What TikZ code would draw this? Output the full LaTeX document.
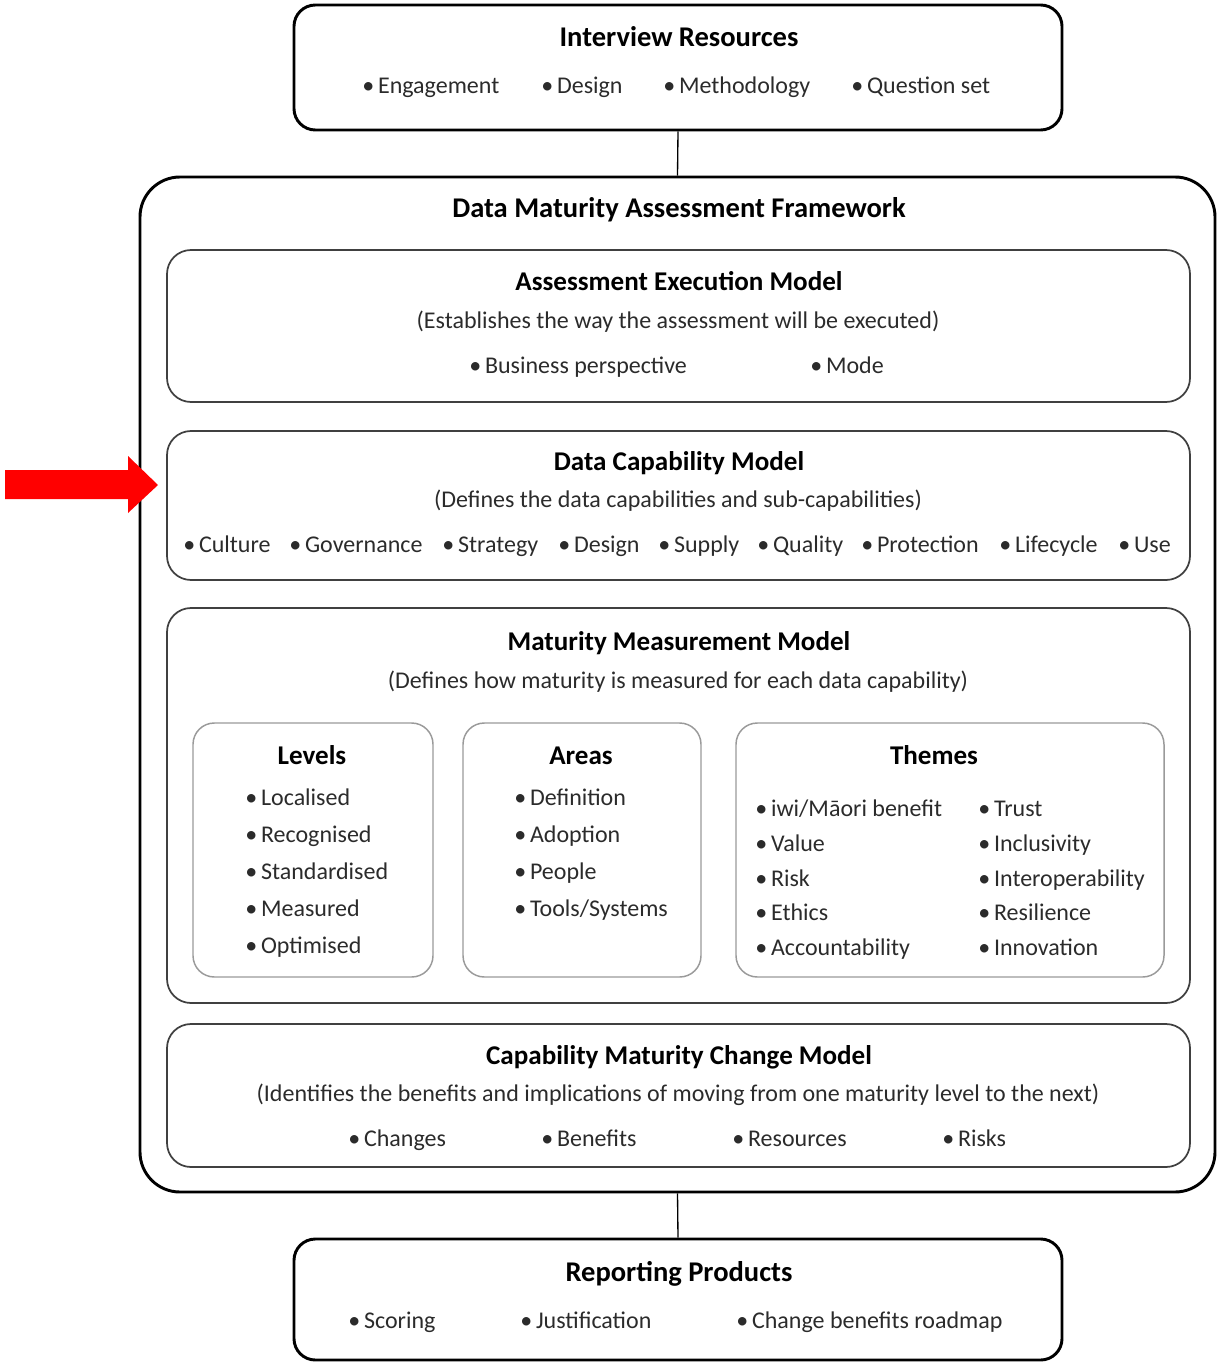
\documentclass[tikz,border=0pt]{standalone}
\usepackage{fontspec}
\setmainfont{Carlito}
\usetikzlibrary{fit}
\definecolor{ink}{HTML}{2B2B2B}
\definecolor{framegrey}{HTML}{404040}
\definecolor{softgrey}{HTML}{9A9A9A}
\definecolor{alarm}{HTML}{FF0000}
\newcommand{\bitem}[1]{\textbullet\hspace{0.16em}#1}
\begin{document}
\begin{tikzpicture}[x=0.75pt,y=-0.75pt,
  heavybox/.style={draw=black, line width=2.2pt, rounded corners=16pt, inner sep=0pt},
  outerbox/.style={draw=black, line width=2.2pt, rounded corners=30pt, inner sep=0pt},
  sectionbox/.style={draw=framegrey, line width=1.3pt, rounded corners=18pt, inner sep=0pt},
  subbox/.style={draw=softgrey, line width=1.1pt, rounded corners=16pt, inner sep=0pt},
  heading/.style={font=\fontsize{20.3}{22}\selectfont\bfseries, inner sep=0pt, anchor=base, yshift=-1.5pt},
  bigheading/.style={heading, font=\fontsize{21.4}{24}\selectfont\bfseries},
  note/.style={font=\fontsize{18}{20}\selectfont, text=ink, inner sep=0pt, anchor=base, yshift=-2pt},
  item/.style={note, anchor=base west},
  link/.style={draw=black, line width=1pt}]
\useasboundingbox (0,0) rectangle (1217,1362);

% ---- Interview resources ----
\node[heavybox, fit={(294,5) (1062,130)}] (ir) {};
\node[bigheading] (irT) at (679,45) {Interview Resources};
\node[item] (ir1) at (362,91) {\bitem{Engagement}};
\node[item] (ir2) at (541,91) {\bitem{Design}};
\node[item] (ir3) at (663,91) {\bitem{Methodology}};
\node[item] (ir4) at (851,91) {\bitem{Question set}};

% ---- Framework ----
\node[outerbox, fit={(140,177) (1215,1192)}] (fw) {};
\node[bigheading] (fwT) at (679,216) {Data Maturity Assessment Framework};

% Assessment execution model
\node[sectionbox, fit={(167,250) (1190,402)}] (aem) {};
\node[heading] (aemT) at (679,289) {Assessment Execution Model};
\node[note] (aemS) at (678,326) {(Establishes the way the assessment will be executed)};
\node[item] (aem1) at (469,371) {\bitem{Business perspective}};
\node[item] (aem2) at (810,371) {\bitem{Mode}};

% Data capability model
\node[sectionbox, fit={(167,431) (1190,580)}] (dcm) {};
\node[heading] (dcmT) at (679,468) {Data Capability Model};
\node[note] (dcmS) at (678,505) {(Defines the data capabilities and sub-capabilities)};
\node[item] (dcm1) at (183,550) {\bitem{Culture}};
\node[item] (dcm2) at (289,550) {\bitem{Governance}};
\node[item] (dcm3) at (442,550) {\bitem{Strategy}};
\node[item] (dcm4) at (558,550) {\bitem{Design}};
\node[item] (dcm5) at (658,550) {\bitem{Supply}};
\node[item] (dcm6) at (757,550) {\bitem{Quality}};
\node[item] (dcm7) at (861,550) {\bitem{Protection}};
\node[item] (dcm8) at (999,550) {\bitem{Lifecycle}};
\node[item] (dcm9) at (1118,550) {\bitem{Use}};

% Maturity measurement model
\node[sectionbox, fit={(167,608) (1190,1003)}] (mmm) {};
\node[heading] (mmmT) at (679,648) {Maturity Measurement Model};
\node[note] (mmmS) at (678,686) {(Defines how maturity is measured for each data capability)};

\node[subbox, fit={(193,723) (433,977)}] (lv) {};
\node[heading] (lvT) at (312,762) {Levels};
\node[item] (lv1) at (245,803) {\bitem{Localised}};
\node[item] (lv2) at (245,840) {\bitem{Recognised}};
\node[item] (lv3) at (245,877) {\bitem{Standardised}};
\node[item] (lv4) at (245,914) {\bitem{Measured}};
\node[item] (lv5) at (245,951) {\bitem{Optimised}};

\node[subbox, fit={(463,723) (701,977)}] (ar) {};
\node[heading] (arT) at (581,762) {Areas};
\node[item] (ar1) at (514,803) {\bitem{Definition}};
\node[item] (ar2) at (514,840) {\bitem{Adoption}};
\node[item] (ar3) at (514,877) {\bitem{People}};
\node[item] (ar4) at (514,914) {\bitem{Tools/Systems}};

\node[subbox, fit={(736,723) (1164,977)}] (th) {};
\node[heading] (thT) at (934,762) {Themes};
\node[item] (th1) at (755,814) {\bitem{iwi/Māori benefit}};
\node[item] (th2) at (755,849) {\bitem{Value}};
\node[item] (th3) at (755,884) {\bitem{Risk}};
\node[item] (th4) at (755,918) {\bitem{Ethics}};
\node[item] (th5) at (755,953) {\bitem{Accountability}};
\node[item] (th6) at (978,814) {\bitem{Trust}};
\node[item] (th7) at (978,849) {\bitem{Inclusivity}};
\node[item] (th8) at (978,884) {\bitem{Interoperability}};
\node[item] (th9) at (978,918) {\bitem{Resilience}};
\node[item] (th10) at (978,953) {\bitem{Innovation}};

% Capability maturity change model
\node[sectionbox, fit={(167,1024) (1190,1167)}] (cmc) {};
\node[heading] (cmcT) at (679,1062) {Capability Maturity Change Model};
\node[note] (cmcS) at (678,1099) {(Identifies the benefits and implications of moving from one maturity level to the next)};
\node[item] (cmc1) at (348,1144) {\bitem{Changes}};
\node[item] (cmc2) at (541,1144) {\bitem{Benefits}};
\node[item] (cmc3) at (732,1144) {\bitem{Resources}};
\node[item] (cmc4) at (942,1144) {\bitem{Risks}};

% ---- Reporting products ----
\node[heavybox, fit={(294,1239) (1062,1360)}] (rp) {};
\node[bigheading] (rpT) at (679,1279) {Reporting Products};
\node[item] (rp1) at (348,1326) {\bitem{Scoring}};
\node[item] (rp2) at (520,1326) {\bitem{Justification}};
\node[item] (rp3) at (736,1326) {\bitem{Change benefits roadmap}};

% ---- connectors ----
\draw[link] (ir.south) -- (fw.north);
\draw[link] (fw.south) -- (rp.north);

% ---- pointer arrow ----
\fill[alarm] (5,470) -- (128,470) -- (128,456) -- (158,485) -- (128,513)
  -- (128,499) -- (5,499) -- cycle;
\end{tikzpicture}
\end{document}
